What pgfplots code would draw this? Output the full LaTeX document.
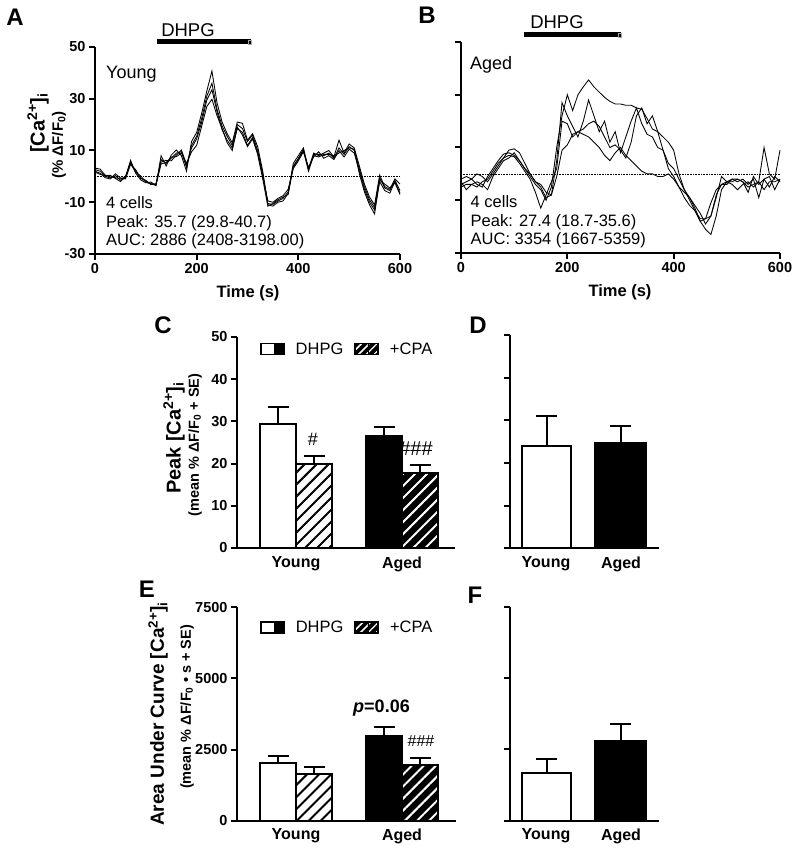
\documentclass[border=0pt]{standalone}
\usepackage{pgfplots}
\pgfplotsset{compat=1.18}
\usepackage{pgfplotstable}
\usepackage{fontspec}
\setmainfont{Liberation Sans}
\usetikzlibrary{patterns.meta}
\newcommand{\fs}[1]{\fontsize{#1}{#1}\selectfont}

\pgfplotstableread{
t a b c d
0 2.6 3.2 2.0 1.6
10 2.0 2.8 1.2 0.8
20 0 0.5 -0.5 0.3
30 -0.6 -0.2 -1.0 0.4
40 0.3 -0.5 1.0 -0.8
50 -1.5 -1.0 -0.6 -2.0
60 -0.6 -0.2 -1.0 0.0
70 5.5 6.2 4.6 5.0
80 2.0 1.2 2.6 1.5
90 -0.6 -1.4 -0.8 0.2
100 -2.0 -2.5 -1.5 -2.2
110 -2.8 -2.2 -3.2 -3.0
120 -3.2 -3.6 -2.8 -3.4
130 6.5 8.0 5.5 4.8
140 5.0 4.0 6.2 5.4
150 7.0 8.2 6.0 7.5
160 9.0 10.2 8.2 7.6
170 9.5 8.0 10.2 9.0
180 3.5 2.0 4.5 5.0
190 12.0 13.5 11.0 9.5
200 15.5 17.0 14.5 12.0
210 22.5 24.5 21.0 19.5
220 31.0 33.0 29.5 27.0
230 36.0 40.7 33.5 29.8
240 26.0 28.5 25.0 23.5
250 19.5 21.0 18.0 18.5
260 15.5 16.5 14.0 13.0
270 12.0 13.0 11.0 10.0
280 20.0 21.0 18.5 19.0
290 18.5 20.5 17.0 16.0
300 13.5 14.0 12.0 11.5
310 16.0 16.5 15.0 14.5
320 10.0 11.5 9.0 8.5
330 1.0 2.0 0.0 -1.0
340 -10.5 -11.0 -9.5 -11.5
350 -10.8 -11.5 -10.0 -10.5
360 -9.5 -10.0 -8.5 -9.0
370 -8.5 -9.5 -7.5 -8.0
380 -6.0 -6.5 -5.0 -7.0
390 4.0 5.0 3.0 3.5
400 7.0 8.0 6.0 6.5
410 10.5 11.0 9.5 10.0
420 3.0 2.5 3.5 2.0
430 8.5 9.0 7.5 8.0
440 8.5 8.0 9.5 7.5
450 8.0 9.0 7.0 8.5
460 9.0 10.0 8.0 8.5
470 7.0 7.5 6.5 8.0
480 11.0 14.0 10.0 9.0
490 8.5 9.0 7.5 10.0
500 11.5 12.5 10.5 11.0
510 10.0 11.0 9.0 10.5
520 3.0 4.0 2.0 1.0
530 -4.0 -3.0 -5.0 -6.0
540 -9.0 -8.0 -10.0 -11.0
550 -12.0 -11.0 -13.0 -14.5
560 -0.5 0.5 -2.0 -1.5
570 -4.5 -4.0 -5.5 -3.0
580 -5.5 -5.0 -6.5 -4.5
590 -1.5 -1.0 -2.0 -2.5
600 -5.5 -3.0 -6.5 -7.0
}\youngtab

\pgfplotstableread{
t p q r s
0 -4 -2 -5 -3
10 -3 -1 -4 -6
20 -2 -2 -4 -4
30 -4 0 -5 -3
40 -5 -1 -3 -4
50 -1 -3 -2 -6
60 2 0 1 -1
70 5 3 4 2
80 7.5 6 6 5
90 8 9 7 6
100 7 9.5 6.5 8
110 5 8 4 5
120 2 4 1 2
130 -1 0 -2 0
140 -4 -3 -7 -3
150 -6 -4 -13 -5
160 -10 -7 -8 -9
170 -5 -8 -3 -8
180 10 5 2 -1
190 22 27 20 9
200 30 22 19 11
210 24 18 14 15
220 30 14 16 16
230 33 20 17 15
240 35.6 28 19 14
250 33 22 20 12
260 31 16 18 10
270 29 20 14 7
280 27.5 12 10 5
290 26.5 16 11 8
300 26.5 8 9 10
310 26 14 6 7
320 26 20 12 5
330 25 25 22 3
340 24.5 19 25 1
350 21 15 19 0
360 17 14 22 0
370 16 10 16 -1
380 14 9 9 -1
390 12 4 2 0
400 9 2 -1 -2
410 0 -2 -5 -5
420 -6 -6 -7 -9
430 -9 -10 -9 -12
440 -13 -14 -12 -14
450 -18 -17 -15 -18
460 -21 -17 -19 -17
470 -23 -16 -16 -11
480 -16 -8 -9 -6
490 -6 -4 -1 -4
500 -3 -3 -3 -4
510 -2 -4 -3 -2
520 -3 -6 -2 -2
530 -2 -4 -3 -3
540 -4 -3 -7 -5
550 -2 -5 -1 -4
560 -9 -3 -4 -3
570 -2 10 -2 -6
580 -1 0 -5 -3
590 -6 -2 -1 -3
600 -2 9 -3 -2
}\agedtab

\pgfplotsset{
  myaxis/.style={
    scale only axis, clip=false,
    axis x line*=bottom, axis y line*=left,
    axis line style={line width=2pt},
    tick style={line width=2pt, black},
    tick align=outside, major tick length=6pt,
    tick label style={font=\bfseries\fs{14.5}},
    /pgf/number format/assume math mode=true,
    /pgf/number format/1000 sep={},
  },
  trace/.style={black, line width=0.85pt},
  bar/.style={ybar, bar shift=0pt, draw=black, line width=2pt,
    error bars/y dir=plus, error bars/y explicit,
    error bars/error bar style={line width=2pt, black},
    error bars/error mark options={rotate=90, mark size=10.5pt, line width=2pt, black}},
  hatchw/.style={fill=white, postaction={pattern={Lines[angle=45,distance=8.5pt,line width=2pt]}, pattern color=black}},
  hatchb/.style={fill=black, postaction={pattern={Lines[angle=45,distance=8.5pt,line width=2pt]}, pattern color=white}},
  mylegend/.style={legend style={draw=none, fill=none, at={#1}, anchor=west,
    legend columns=2, font=\fs{16.5}, inner sep=0pt,
    /tikz/every odd column/.append style={column sep=9pt},
    /tikz/every even column/.append style={column sep=9pt}}},
}

\begin{document}
\begin{tikzpicture}
\path[use as bounding box] (0pt,0pt) rectangle (800pt,853pt);

% ---------- Panel A ----------
\begin{axis}[myaxis, at={(95pt,599pt)}, anchor=south west,
  width=305pt, height=207pt, xmin=0, xmax=600, ymin=-30, ymax=50,
  xtick={0,200,400,600}, ytick={-30,-10,10,30,50}]
\addplot[densely dotted, line width=0.6pt] coordinates {(0,0) (600,0)};
\addplot[trace] table[x=t,y=a] {\youngtab};
\addplot[trace] table[x=t,y=b] {\youngtab};
\addplot[trace] table[x=t,y=c] {\youngtab};
\addplot[trace] table[x=t,y=d] {\youngtab};
\end{axis}

% ---------- Panel B ----------
\begin{axis}[myaxis, at={(461pt,600pt)}, anchor=south west,
  width=319pt, height=211pt, xmin=0, xmax=600, ymin=-30, ymax=50,
  xtick={0,200,400,600}, ytick={-30,-10,10,30,50}, yticklabels={}]
\addplot[densely dotted, line width=0.6pt] coordinates {(0,0) (600,0)};
\addplot[trace] table[x=t,y=p] {\agedtab};
\addplot[trace] table[x=t,y=q] {\agedtab};
\addplot[trace] table[x=t,y=r] {\agedtab};
\addplot[trace] table[x=t,y=s] {\agedtab};
\end{axis}

% ---------- Panel C ----------
\begin{axis}[myaxis, at={(237pt,305pt)}, anchor=south west,
  width=218pt, height=211pt, xmin=0, xmax=218, ymin=0, ymax=50,
  xtick=\empty, ytick={0,10,20,30,40,50},
  mylegend={(0.105,0.943)}, legend image code/.code={}]
\addplot[bar, bar width=36, fill=white, forget plot] coordinates {(41,29.5) +- (0,3.8)};
\addplot[bar, bar width=36, hatchw, forget plot] coordinates {(77,19.8) +- (0,2.0)};
\addplot[bar, bar width=36, fill=black, forget plot] coordinates {(147,26.5) +- (0,2.2)};
\addplot[bar, bar width=36, hatchb, forget plot] coordinates {(183,17.7) +- (0,2.0)};
\addlegendimage{legend image code/.code={
  \draw[line width=1.6pt, fill=white] (0pt,-5.5pt) rectangle (23pt,5.5pt);
  \fill[black] (13pt,-5.5pt) rectangle (23pt,5.5pt);}}
\addlegendentry{DHPG}
\addlegendimage{legend image code/.code={
  \fill[black] (0pt,-5.5pt) rectangle (23pt,5.5pt);
  \fill[pattern={Lines[angle=45,distance=5.5pt,line width=1.6pt]}, pattern color=white] (0pt,-5.5pt) rectangle (13pt,5.5pt);
  \fill[pattern={Lines[angle=45,distance=5.5pt,line width=1.2pt]}, pattern color=white] (13pt,-5.5pt) rectangle (23pt,5.5pt);
  \draw[line width=1.6pt] (0pt,-5.5pt) rectangle (23pt,5.5pt);}}
\addlegendentry{+CPA}
\node[font=\fs{18}] at (axis cs:76,25.8) {\#};
\node[font=\fs{20}] at (axis cs:179,23.6) {\#\#\#};
\end{axis}

% ---------- Panel D ----------
\begin{axis}[myaxis, at={(510pt,304.7pt)}, anchor=south west,
  width=148.5pt, height=213pt, xmin=0, xmax=148.5, ymin=0, ymax=50,
  xtick=\empty, ytick={0,10,20,30,40,50}, yticklabels={}]
\addplot[bar, bar width=49, fill=white] coordinates {(36.5,24.1) +- (0,6.9)};
\addplot[bar, bar width=51, fill=black] coordinates {(110.5,24.7) +- (0,3.9)};
\end{axis}

% ---------- Panel E ----------
\begin{axis}[myaxis, at={(237pt,32.3pt)}, anchor=south west,
  width=219pt, height=213.4pt, xmin=0, xmax=219, ymin=0, ymax=7500,
  xtick=\empty, ytick={0,2500,5000,7500},
  mylegend={(0.105,0.905)}, legend image code/.code={}]
\addplot[bar, bar width=36, fill=white, forget plot] coordinates {(41,2038) +- (0,246)};
\addplot[bar, bar width=36, hatchw, forget plot] coordinates {(77,1641) +- (0,236)};
\addplot[bar, bar width=36, fill=black, forget plot] coordinates {(147,2987) +- (0,317)};
\addplot[bar, bar width=36, hatchb, forget plot] coordinates {(183,1947) +- (0,267)};
\addlegendimage{legend image code/.code={
  \draw[line width=1.6pt, fill=white] (0pt,-5.5pt) rectangle (23pt,5.5pt);
  \fill[black] (13pt,-5.5pt) rectangle (23pt,5.5pt);}}
\addlegendentry{DHPG}
\addlegendimage{legend image code/.code={
  \fill[black] (0pt,-5.5pt) rectangle (23pt,5.5pt);
  \fill[pattern={Lines[angle=45,distance=5.5pt,line width=1.6pt]}, pattern color=white] (0pt,-5.5pt) rectangle (13pt,5.5pt);
  \fill[pattern={Lines[angle=45,distance=5.5pt,line width=1.2pt]}, pattern color=white] (13pt,-5.5pt) rectangle (23pt,5.5pt);
  \draw[line width=1.6pt] (0pt,-5.5pt) rectangle (23pt,5.5pt);}}
\addlegendentry{+CPA}
\node[font=\fs{16}] at (axis cs:184,2801) {\#\#\#};
\node[font=\bfseries\fs{18}] at (axis cs:144.5,3961) {\textit{p}=0.06};
\end{axis}

% ---------- Panel F ----------
\begin{axis}[myaxis, at={(510pt,32.5pt)}, anchor=south west,
  width=148.5pt, height=213.4pt, xmin=0, xmax=148.5, ymin=0, ymax=7500,
  xtick=\empty, ytick={0,2500,5000,7500}, yticklabels={}]
\addplot[bar, bar width=49, fill=white] coordinates {(36.5,1676) +- (0,468)};
\addplot[bar, bar width=51, fill=black] coordinates {(110.5,2797) +- (0,580)};
\end{axis}

% ---------- DHPG application bars ----------
\fill[black] (157pt,808.5pt) rectangle (251pt,813.5pt);
\draw[gray!70, line width=0.7pt] (248.5pt,809pt) rectangle (251pt,813pt);
\node[font=\fs{18.5}] at (188pt,823pt) {DHPG};
\fill[black] (524pt,815.5pt) rectangle (621pt,820.5pt);
\draw[gray!70, line width=0.7pt] (618.5pt,816pt) rectangle (621pt,820pt);
\node[font=\fs{18.5}] at (557pt,830.5pt) {DHPG};

% ---------- panel texts ----------
\node[anchor=base west, font=\fs{18}, inner sep=0pt] at (106pt,774.5pt) {Young};
\node[anchor=base west, font=\fs{16.5}, inner sep=0pt] at (106pt,644pt) {4 cells};
\node[anchor=base west, font=\fs{16.5}, inner sep=0pt] at (106pt,625pt) {Peak: 35.7 (29.8-40.7)};
\node[anchor=base west, font=\fs{16.5}, inner sep=0pt] at (106pt,607pt) {AUC: 2886 (2408-3198.00)};
\node[anchor=base west, font=\fs{18}, inner sep=0pt] at (470pt,783.5pt) {Aged};
\node[anchor=base west, font=\fs{16.5}, inner sep=0pt] at (470.5pt,645pt) {4 cells};
\node[anchor=base west, font=\fs{16.5}, inner sep=0pt] at (470.5pt,626pt) {Peak: 27.4 (18.7-35.6)};
\node[anchor=base west, font=\fs{16.5}, inner sep=0pt] at (470.5pt,608pt) {AUC: 3354 (1667-5359)};

% axis titles
\node[font=\bfseries\fs{16.5}] at (248pt,560pt) {Time (s)};
\node[font=\bfseries\fs{16.5}] at (620pt,561pt) {Time (s)};
\node[rotate=90, font=\bfseries\fs{20}] at (38pt,730pt) {[Ca\textsuperscript{2+}]\textsubscript{i}};
\node[rotate=90, font=\bfseries\fs{15}] at (59pt,708pt) {(\% ΔF/F\textsubscript{0})};
\node[rotate=90, font=\bfseries\fs{20}] at (174pt,415pt) {Peak [Ca\textsuperscript{2+}]\textsubscript{i}};
\node[rotate=90, font=\bfseries\fs{14.5}] at (195pt,408pt) {(mean \% ΔF/F\textsubscript{0} + SE)};
\node[rotate=90, font=\bfseries\fs{19}] at (158pt,139pt) {Area Under Curve [Ca\textsuperscript{2+}]\textsubscript{i}};
\node[rotate=90, font=\bfseries\fs{14.5}] at (187pt,146pt) {(mean \% ΔF/F\textsubscript{0} • s + SE)};

% category labels
\node[font=\bfseries\fs{16}] at (296pt,289pt) {Young};
\node[font=\bfseries\fs{16}] at (402pt,289pt) {Aged};
\node[font=\bfseries\fs{16}] at (546pt,289pt) {Young};
\node[font=\bfseries\fs{16}] at (621pt,289pt) {Aged};
\node[font=\bfseries\fs{16}] at (296pt,17pt) {Young};
\node[font=\bfseries\fs{16}] at (402pt,17pt) {Aged};
\node[font=\bfseries\fs{16}] at (546pt,17pt) {Young};
\node[font=\bfseries\fs{16}] at (621pt,17pt) {Aged};

% panel letters
\node[font=\bfseries\fs{24}] at (15pt,836pt) {A};
\node[font=\bfseries\fs{24}] at (427pt,838pt) {B};
\node[font=\bfseries\fs{24}] at (163pt,528pt) {C};
\node[font=\bfseries\fs{24}] at (478pt,528pt) {D};
\node[font=\bfseries\fs{24}] at (147pt,264pt) {E};
\node[font=\bfseries\fs{24}] at (475pt,258pt) {F};
\end{tikzpicture}
\end{document}
